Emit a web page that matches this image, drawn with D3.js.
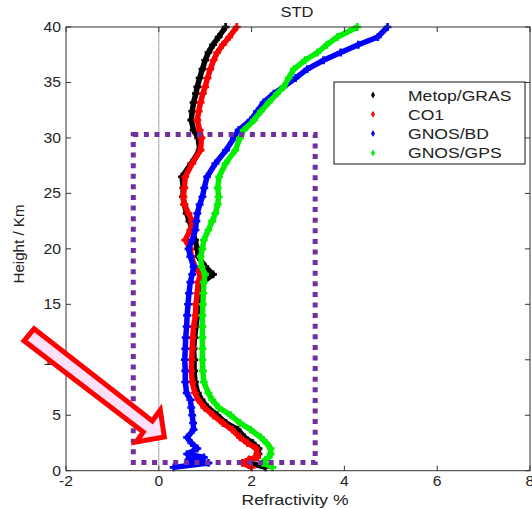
<!DOCTYPE html>
<html>
<head>
<meta charset="utf-8">
<script src="https://cdn.jsdelivr.net/npm/d3@7"></script>
<style>
  body { margin: 0; background: #fff; }
  svg text { font-family: "Liberation Sans", Arial, sans-serif; fill: #222; }
</style>
</head>
<body>
<svg id="chart" width="532" height="509"></svg>
<script>
// heights (km) at which each profile was read
const heights = [0.3, 0.7, 1.0, 1.2, 1.5, 2, 2.5, 3, 3.7, 4.3, 5, 5.7, 6.4, 7, 8, 9, 10, 11, 12, 13, 14, 15, 16, 17, 17.7, 18.4, 19.3, 20, 20.8, 21.7, 22.5, 23.2, 24, 24.7, 25.5, 26.5, 27.7, 28.9, 30, 30.7, 31.6, 32.4, 33.2, 34, 34.6, 35.4, 36.2, 37, 37.7, 38.4, 39.1, 40];

const metop = [2.3, 1.95, 1.95, 2.1, 2.15, 2.15, 2.02, 1.85, 1.7, 1.45, 1.26, 1.05, 0.92, 0.84, 0.78, 0.76, 0.76, 0.75, 0.77, 0.8, 0.83, 0.85, 0.88, 0.95, 1.17, 1.0, 0.85, 0.83, 0.78, 0.72, 0.66, 0.6, 0.55, 0.52, 0.53, 0.5, 0.7, 0.88, 0.85, 0.75, 0.7, 0.72, 0.75, 0.8, 0.83, 0.88, 0.94, 1.0, 1.07, 1.17, 1.29, 1.44];
const co1 = [2.0, 1.8, 1.94, 2.12, 2.12, 2.1, 1.91, 1.75, 1.58, 1.38, 1.17, 0.98, 0.85, 0.78, 0.72, 0.7, 0.71, 0.72, 0.73, 0.75, 0.79, 0.8, 0.83, 0.85, 0.9, 0.78, 0.7, 0.68, 0.57, 0.68, 0.72, 0.64, 0.55, 0.53, 0.55, 0.57, 0.72, 0.9, 0.92, 0.88, 0.83, 0.86, 0.9, 0.95, 1.0, 1.05, 1.11, 1.18, 1.26, 1.38, 1.52, 1.68];
const gnosBD = [0.32, 1.07, 0.64, 0.97, 0.61, 0.83, 0.7, 0.61, 0.75, 0.74, 0.72, 0.7, 0.68, 0.6, 0.57, 0.57, 0.56, 0.57, 0.58, 0.6, 0.61, 0.63, 0.65, 0.68, 0.72, 0.75, 0.68, 0.64, 0.72, 0.79, 0.81, 0.83, 0.88, 0.94, 0.98, 1.04, 1.22, 1.45, 1.62, 1.72, 1.98, 2.12, 2.26, 2.48, 2.69, 2.95, 3.2, 3.55, 3.92, 4.3, 4.72, 4.93];
const gnosGPS = [2.45, 2.24, 2.3, 2.37, 2.41, 2.41, 2.32, 2.2, 1.98, 1.75, 1.55, 1.29, 1.15, 1.07, 0.97, 0.95, 0.94, 0.94, 0.94, 0.94, 0.94, 0.95, 0.96, 0.97, 1.0, 0.92, 0.9, 0.94, 0.97, 1.07, 1.15, 1.22, 1.27, 1.29, 1.27, 1.3, 1.44, 1.65, 1.75, 1.83, 2.05, 2.2, 2.37, 2.55, 2.69, 2.8, 2.91, 3.15, 3.42, 3.62, 3.85, 4.28];

const seriesNames = ["Metop/GRAS", "CO1", "GNOS/BD", "GNOS/GPS"];
const seriesValues = [metop, co1, gnosBD, gnosGPS];
const seriesColors = ["#000000", "#ff0000", "#0000ff", "#00ee00"];

const xTicks = [-2, 0, 2, 4, 6, 8];
const yTicks = [0, 5, 10, 15, 20, 25, 30, 35, 40];

// annotations (data units)
const boxX = [-0.55, 3.37];
const boxY = [0.75, 30.3];
const arrowPts = [[-2.689, 12.79], [-2.905, 11.71], [-0.335, 3.49], [-0.486, 2.59], [0.119, 3.04], [0.032, 5.48], [-0.14, 4.49]];

const svg = d3.select("#chart");
const mLeft = 66, mRight = 530, mTop = 27, mBottom = 470.7;

const x = d3.scaleLinear().domain([-2, 8]).range([mLeft, mRight]);
const y = d3.scaleLinear().domain([0, 40]).range([mBottom, mTop]);

// the original's lettering is a bit wider than Arial, so stretch text a little
function widen(sel, k) {
    sel.each(function () {
        const w = this.getComputedTextLength();
        d3.select(this).attr("textLength", w * k).attr("lengthAdjust", "spacingAndGlyphs");
    });
}

// zero line
svg.append("line")
    .attr("x1", x(0)).attr("x2", x(0))
    .attr("y1", y(0)).attr("y2", y(40))
    .attr("stroke", "#555").attr("stroke-width", 1)
    .attr("stroke-dasharray", "1,1");

// profiles
const line = d3.line().x(d => x(d[0])).y(d => y(d[1]));
const cross = d3.symbol().type(d3.symbolCross).size(34);

seriesValues.forEach((vals, i) => {
    const pts = vals.map((v, j) => [v, heights[j]]);
    const grp = svg.append("g");
    grp.append("path")
        .attr("d", line(pts))
        .attr("fill", "none")
        .attr("stroke", seriesColors[i])
        .attr("stroke-width", 5.5)
        .attr("stroke-linejoin", "round");
    grp.selectAll("path.pt")
        .data(pts)
        .enter()
        .append("path")
        .attr("class", "pt")
        .attr("d", cross)
        .attr("transform", d => `translate(${x(d[0])},${y(d[1])})`)
        .attr("fill", seriesColors[i]);
});

// axes box
svg.append("rect")
    .attr("x", mLeft).attr("y", mTop)
    .attr("width", mRight - mLeft).attr("height", mBottom - mTop)
    .attr("fill", "none").attr("stroke", "#333").attr("stroke-width", 1);

const tickLen = 5;
const tk = svg.append("g").attr("stroke", "#333").attr("stroke-width", 1);
xTicks.forEach(t => {
    tk.append("line").attr("x1", x(t)).attr("x2", x(t)).attr("y1", mBottom).attr("y2", mBottom - tickLen);
    tk.append("line").attr("x1", x(t)).attr("x2", x(t)).attr("y1", mTop).attr("y2", mTop + tickLen);
});
yTicks.forEach(t => {
    tk.append("line").attr("x1", mLeft).attr("x2", mLeft + tickLen).attr("y1", y(t)).attr("y2", y(t));
    tk.append("line").attr("x1", mRight).attr("x2", mRight - tickLen).attr("y1", y(t)).attr("y2", y(t));
});

svg.selectAll("text.xt")
    .data(xTicks)
    .enter().append("text")
    .attr("class", "xt")
    .attr("x", d => x(d)).attr("y", mBottom + 15)
    .attr("text-anchor", "middle").attr("font-size", 14)
    .text(d => d)
    .call(widen, 1.12);

svg.selectAll("text.yt")
    .data(yTicks)
    .enter().append("text")
    .attr("class", "yt")
    .attr("x", mLeft - 5).attr("y", d => y(d) + 5)
    .attr("text-anchor", "end").attr("font-size", 14)
    .text(d => d)
    .call(widen, 1.12);

svg.append("text")
    .attr("x", 297).attr("y", 17)
    .attr("text-anchor", "middle").attr("font-size", 14)
    .text("STD")
    .call(widen, 1.18);

svg.append("text")
    .attr("x", 295).attr("y", 505)
    .attr("text-anchor", "middle").attr("font-size", 14)
    .text("Refractivity %")
    .call(widen, 1.25);

svg.append("text")
    .attr("transform", `translate(24, 244) rotate(-90)`)
    .attr("text-anchor", "middle").attr("font-size", 14)
    .text("Height / Km")
    .call(widen, 1.08);

// legend
const lg = svg.append("g");
lg.append("rect")
    .attr("x", 334).attr("y", 82).attr("width", 191).attr("height", 82)
    .attr("fill", "#fff").attr("stroke", "#111").attr("stroke-width", 1);
seriesNames.forEach((name, i) => {
    const ly = 95 + i * 19.3;
    lg.append("path")
        .attr("d", d3.symbol().type(d3.symbolDiamond).size(14)())
        .attr("transform", `translate(373,${ly})`)
        .attr("fill", seriesColors[i]);
    lg.append("text")
        .attr("x", 408).attr("y", ly + 5.5)
        .attr("font-size", 15)
        .text(name)
        .call(widen, 1.17);
});

// dotted highlight box
svg.append("rect")
    .attr("x", x(boxX[0])).attr("y", y(boxY[1]))
    .attr("width", x(boxX[1]) - x(boxX[0]))
    .attr("height", y(boxY[0]) - y(boxY[1]))
    .attr("fill", "none")
    .attr("stroke", "#7030a0")
    .attr("stroke-width", 5)
    .attr("stroke-dasharray", "5,5.6");

// arrow
svg.append("path")
    .attr("d", d3.line().x(d => x(d[0])).y(d => y(d[1]))(arrowPts) + "Z")
    .attr("fill", "#fde0fa")
    .attr("stroke", "#ff0000")
    .attr("stroke-width", 5)
    .attr("stroke-linejoin", "miter");
</script>
</body>
</html>
